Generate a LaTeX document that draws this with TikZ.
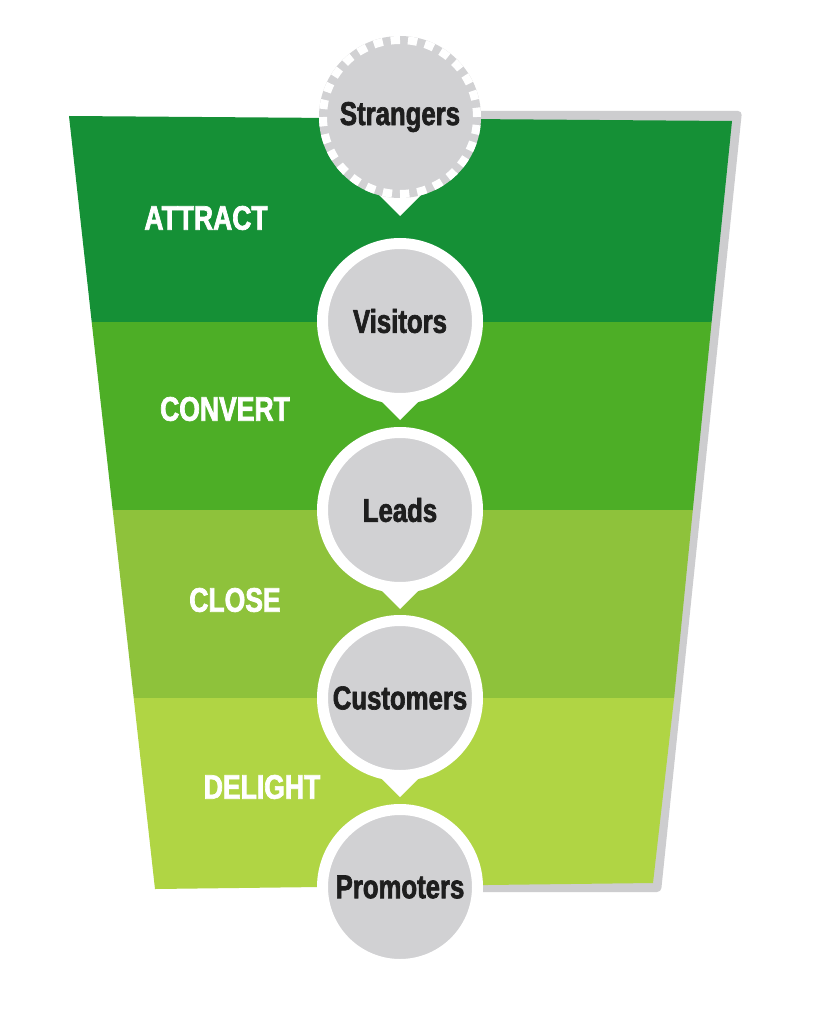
\documentclass[tikz,border=0pt]{standalone}
\usepackage{fontspec}
\usepackage{tikz}
\newfontfamily\funnelfont{Liberation Sans}[FakeStretch=0.78,FakeBold=2]
\definecolor{attractgreen}{HTML}{159036}
\definecolor{convertgreen}{HTML}{4DAE26}
\definecolor{closegreen}{HTML}{8EC23B}
\definecolor{delightgreen}{HTML}{B0D544}
\definecolor{circlegray}{HTML}{D1D1D3}
\definecolor{shadowgray}{HTML}{CDCDCF}
\definecolor{textdark}{HTML}{1E1E1E}
\tikzset{
  bubble/.style={circle,fill=circlegray,draw=white,line width=11pt,minimum size=155pt,inner sep=0pt,
    text=textdark,font=\funnelfont\bfseries\fontsize{33}{33}\selectfont},
  strangerbubble/.style={bubble,draw=none,minimum size=162pt},
  ringdash/.style={draw=white,line width=8pt,dash pattern=on 9.3pt off 7.98pt},
  stagelabel/.style={text=white,inner sep=0pt,font=\funnelfont\bfseries\fontsize{34}{34}\selectfont}
}
\begin{document}
\begin{tikzpicture}[x=1pt,y=-1pt]
\useasboundingbox (0,0) rectangle (813,1016);
\fill[white] (0,0) rectangle (813,1016);
% shadow behind the funnel
\fill[shadowgray,rounded corners=4pt] (400,111) -- (742,111) -- (661,892) -- (400,892) -- cycle;
% funnel bands
\fill[attractgreen] (69,116) -- (732,121) -- (711.6,322) -- (91.7,322) -- cycle;
\fill[convertgreen] (91.7,322) -- (711.6,322) -- (692.8,510) -- (112.7,510) -- cycle;
\fill[closegreen] (112.7,510) -- (692.8,510) -- (674.1,698) -- (133.7,698) -- cycle;
\fill[delightgreen] (133.7,698) -- (674.1,698) -- (653,883) -- (155,889) -- cycle;
% stage labels
\node[stagelabel] (attract) at (206,218) {ATTRACT};
\node[stagelabel] (convert) at (225,409) {CONVERT};
\node[stagelabel] (close) at (235,600) {CLOSE};
\node[stagelabel] (delight) at (262,787) {DELIGHT};
% pointers under the bubbles
\foreach \y in {117,321,510,698}
  \fill[white] (400,\y) ++(-40,59) -- ++(40,40) -- ++(40,-40) -- cycle;
% bubbles
\node[strangerbubble] (strangers) at (400,117) {Strangers};
\draw[ringdash] (strangers) circle[radius=77pt];
\node[bubble] (visitors) at (400,321) {Visitors};
\node[bubble] (leads) at (400,510) {Leads};
\node[bubble] (customers) at (400,698) {Customers};
\node[bubble] (promoters) at (400,887) {Promoters};
\end{tikzpicture}
\end{document}
